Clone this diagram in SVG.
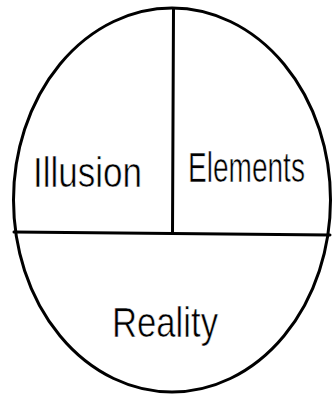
<svg xmlns="http://www.w3.org/2000/svg" width="333" height="394" viewBox="0 0 333 394">
<style>
.ln{fill:none;stroke:#000;stroke-width:3;stroke-linecap:round}
.lb{font-family:"Liberation Sans","DejaVu Sans",sans-serif;font-size:42px;fill:#000;stroke:#fff;stroke-width:0.6}
</style>
<rect width="333" height="394" fill="#fff"/>
<g id="outline">
<ellipse class="ln" cx="172" cy="200" rx="158.5" ry="192"/>
</g>
<g id="connectors">
<path class="ln" d="M173.5 9 L172.5 233"/>
<path class="ln" d="M14 232 L330 235"/>
</g>
<g id="illusion">
<text class="lb" transform="translate(33 187) scale(0.834 1)">Illusion</text>
</g>
<g id="elements">
<text class="lb" transform="translate(188 182) scale(0.668 1)">Elements</text>
</g>
<g id="reality">
<text class="lb" transform="translate(112 337) scale(0.826 1)">Reality</text>
</g>
</svg>
